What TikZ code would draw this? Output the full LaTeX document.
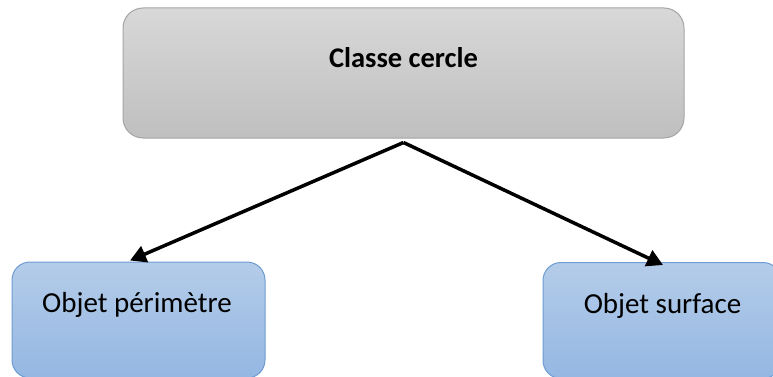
\documentclass[tikz,border=0pt]{standalone}
\usepackage{fontspec}
\setmainfont{Carlito}
\usetikzlibrary{arrows.meta}
\definecolor{grayTop}{HTML}{D8D8D8}
\definecolor{grayBot}{HTML}{BFBFBF}
\definecolor{grayEdge}{HTML}{A5A5A5}
\definecolor{blueTop}{HTML}{B4CCE9}
\definecolor{blueBot}{HTML}{94B7E2}
\definecolor{blueEdge}{HTML}{6E9BD2}
\begin{document}
\begin{tikzpicture}[x=1pt,y=-1pt,
  classbox/.style={draw=grayEdge, line width=1pt, rounded corners=20pt,
    top color=grayTop, bottom color=grayBot, inner sep=0pt},
  objbox/.style={draw=blueEdge, line width=1pt, rounded corners=18pt,
    top color=blueTop, bottom color=blueBot, inner sep=0pt},
  boxlabel/.style={font=\fontsize{29}{34}\selectfont, inner sep=0pt},
  link/.style={line width=3.5pt, -{Triangle[length=16pt,width=17pt]}}]
  \useasboundingbox (0,0) rectangle (773,377);
  % class box
  \node[classbox, minimum width=561pt, minimum height=130pt] (classe) at (403.5,73) {};
  \node[boxlabel, font=\bfseries\fontsize{28.5}{34}\selectfont] (classeTxt) at (403.5,58) {Classe cercle};
  % object boxes
  \node[objbox, minimum width=253pt, minimum height=116pt] (perim) at (138.5,320) {};
  \node[boxlabel] (perimTxt) at (137,305) {Objet périmètre};
  \node[objbox, minimum width=238pt, minimum height=116pt] (surf) at (662,320.5) {};
  \node[boxlabel] (surfTxt) at (662.5,306) {Objet surface};
  % connectors
  \coordinate (fork) at ([yshift=-4pt]classe.south);
  \coordinate (perimIn) at ([xshift=-8.5pt,yshift=1pt]perim.north);
  \coordinate (surfIn) at ([xshift=1pt,yshift=-3pt]surf.north);
  \draw[link] (fork) -- (perimIn);
  \draw[link] (fork) -- (surfIn);
\end{tikzpicture}
\end{document}
